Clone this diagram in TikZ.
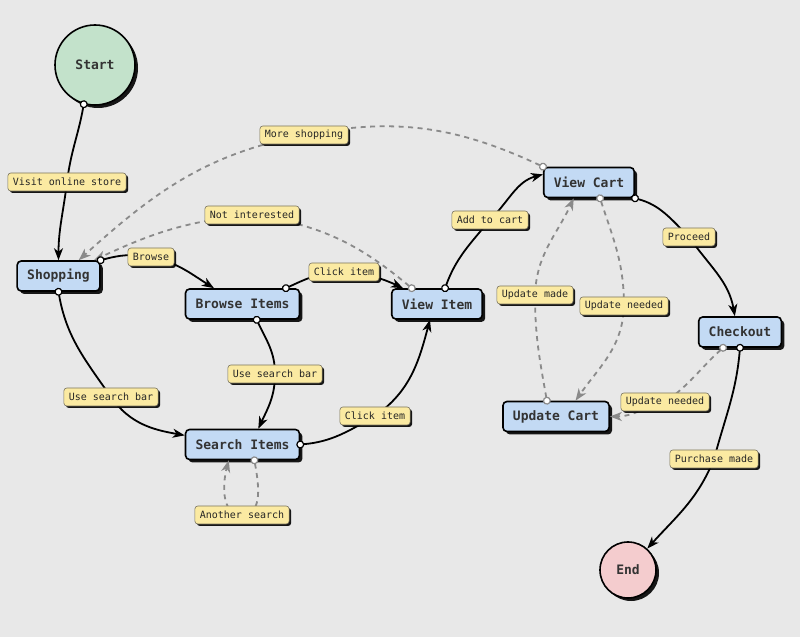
\documentclass[tikz,border=0pt]{standalone}
\usepackage{fontspec}
\setmonofont{DejaVu Sans Mono}
\usetikzlibrary{arrows.meta,shadows}
\definecolor{bg}{HTML}{E8E8E8}
\definecolor{boxblue}{HTML}{C3DAF4}
\definecolor{startgreen}{HTML}{C3E2CB}
\definecolor{endpink}{HTML}{F4CCCE}
\definecolor{lblfill}{HTML}{FBEAA2}
\definecolor{lblborder}{HTML}{7A7460}
\definecolor{txt}{HTML}{333333}
\definecolor{dgray}{HTML}{8A8A8A}
\begin{document}
\begin{tikzpicture}[x=1pt,y=1pt,
  shad/.style={drop shadow={shadow xshift=3pt,shadow yshift=-3pt,fill=black,opacity=0.9}},
  box/.style={shad,draw=black,line width=1.6pt,fill=boxblue,rounded corners=4pt,
    minimum height=30pt,inner xsep=10pt,inner ysep=0pt,
    font=\fontsize{13}{15}\selectfont\ttfamily\bfseries,text=txt},
  term/.style={shad,circle,draw=black,line width=1.6pt,inner sep=0pt,
    font=\fontsize{13}{15}\selectfont\ttfamily\bfseries,text=txt},
  lbl/.style={drop shadow={shadow xshift=2pt,shadow yshift=-2pt,fill=black,opacity=0.9},
    solid,draw=lblborder,line width=0.6pt,fill=lblfill,rounded corners=3pt,
    font=\fontsize{10}{12}\selectfont\ttfamily,text=black!85,
    inner xsep=5pt,inner ysep=0pt,minimum height=18pt},
  flow/.style={line width=1.8pt,draw=black,
    {Circle[fill=white,length=8pt,width=8pt,line width=1.2pt]}-{Stealth[length=12pt,width=9pt,inset=3.5pt]},
    shorten <=-4pt},
  alt/.style={line width=1.8pt,draw=dgray,dash pattern=on 5pt off 4.5pt,
    {Circle[fill=white,length=8pt,width=8pt,line width=1.2pt]}-{Stealth[length=12pt,width=9pt,inset=3.5pt]},
    shorten <=-4pt}
]
\fill[bg] (0,0) rectangle (800,637);
\useasboundingbox (0,0) rectangle (800,637);

% nodes
\node[term,fill=startgreen,minimum size=80pt] (start) at (95,572) {Start};
\node[term,fill=endpink,minimum size=56pt] (end) at (628,67) {End};
\node[box] (shopping) at (58.5,361) {Shopping};
\node[box] (browse) at (242.5,333) {Browse Items};
\node[box] (search) at (242.5,192.5) {Search Items};
\node[box] (viewitem) at (437,333) {View Item};
\node[box] (viewcart) at (589,454.5) {View Cart};
\node[box] (checkout) at (740,305) {Checkout};
\node[box] (updatecart) at (556,220.5) {Update Cart};

% label points
\coordinate (p1) at (67,455);
\coordinate (p2) at (151,380);
\coordinate (p3) at (111,240);
\coordinate (p4) at (344,365);
\coordinate (p5) at (275,263);
\coordinate (p6) at (375,221);
\coordinate (p7) at (490,417);
\coordinate (p8) at (689,400);
\coordinate (p9) at (714,178);
\coordinate (p10) at (304,502);
\coordinate (p11) at (252,422);
\coordinate (p12) at (624,331);
\coordinate (p13) at (535,342);
\coordinate (p14) at (665,235);
\coordinate (p15) at (242,122);

% dashed connectors
\draw[alt] (viewcart.north west) to[out=155,in=11] (p10) node[lbl] (l10) {More shopping}
  to[out=191,in=42] (shopping.38);
\draw[alt] (viewitem.148) to[out=140,in=-8] (p11) node[lbl] (l11) {Not interested}
  to[out=185,in=25] (shopping.24);
\draw[alt] (viewcart.-55) to[out=-72,in=90] (p12) node[lbl] (l12) {Update needed}
  to[out=-92,in=55] (updatecart.39);
\draw[alt] (updatecart.120) to[out=100,in=-90] (p13) node[lbl] (l13) {Update made}
  to[out=88,in=-115] (viewcart.226);
\draw[alt] (checkout.223) to[out=222,in=35] (p14) node[lbl] (l14) {Update needed}
  to[out=195,in=0] (updatecart.east);
\draw[alt] (search.-53) to[out=-80,in=0] (p15) node[lbl] (l15) {Another search}
  to[out=180,in=-105] (search.229);

% solid connectors
\draw[flow] (start.254) to[out=-100,in=83] (p1) node[lbl] (l1) {Visit online store}
  to[out=-97,in=90] (shopping.north);
\draw[flow] (shopping.north east) to[out=15,in=170] (p2) node[lbl] (l2) {Browse}
  to[out=-12,in=148] (browse.151);
\draw[flow] (shopping.south) to[out=-80,in=125] (p3) node[lbl] (l3) {Use search bar}
  to[out=-55,in=170] (search.171);
\draw[flow] (browse.20) to[out=25,in=180] (p4) node[lbl] (l4) {Click item}
  to[out=-5,in=155] (viewitem.155);
\draw[flow] (browse.-48) to[out=-65,in=90] (p5) node[lbl] (l5) {Use search bar}
  to[out=-90,in=65] (search.45);
\draw[flow] (search.east) to[out=5,in=210] (p6) node[lbl] (l6) {Click item}
  to[out=35,in=-105] (viewitem.246);
\draw[flow] (viewitem.63) to[out=70,in=230] (p7) node[lbl] (l7) {Add to cart}
  to[out=45,in=195] (viewcart.170);
\draw[flow] (viewcart.south east) to[out=-15,in=135] (p8) node[lbl] (l8) {Proceed}
  to[out=-55,in=100] (checkout.108);
\draw[flow] (checkout.south) to[out=-95,in=75] (p9) node[lbl] (l9) {Purchase made}
  to[out=-112,in=48] (end.48);
\end{tikzpicture}
\end{document}
